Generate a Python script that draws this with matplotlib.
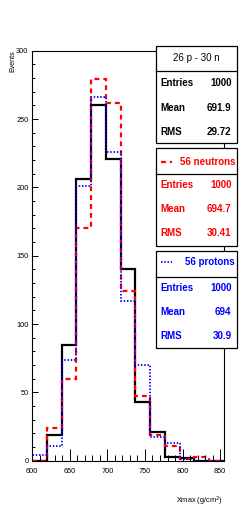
import numpy as np
import matplotlib
matplotlib.use("Agg")
import matplotlib.pyplot as plt
from matplotlib.patches import Rectangle
from matplotlib.lines import Line2D

plt.rcParams['font.family'] = ['Liberation Sans', 'DejaVu Sans']

# ---- data ----
x_min, x_max, n_bins = 600, 855, 13
mixed = [0, 19, 85, 206, 260, 221, 140, 43, 21, 3, 2, 0, 0]      # 26 p - 30 n
neutrons = [0, 24, 60, 170, 279, 262, 124, 47, 19, 11, 1, 3, 0]  # 56 neutrons
protons = [4, 11, 74, 201, 266, 226, 117, 70, 17, 13, 1, 0, 0]   # 56 protons

box_titles = ["26 p - 30 n", "56 neutrons", "56 protons"]
box_entries = ["1000", "1000", "1000"]
box_means = ["691.9", "694.7", "694"]
box_rms = ["29.72", "30.41", "30.9"]

W, H = 249, 517
fig = plt.figure(figsize=(W / 100, H / 100), dpi=100)

def fx(px):
    return px / W

def fy(py):
    return 1 - py / H

ax_l, ax_r, ax_t, ax_b = 32, 224, 50.7, 460.7
ax = fig.add_axes([fx(ax_l), fy(ax_b), fx(ax_r) - fx(ax_l), fy(ax_t) - fy(ax_b)])

edges = np.linspace(x_min, x_max, n_bins + 1)
ax.stairs(mixed, edges, color='black', lw=1.6, baseline=0)
ax.stairs(neutrons, edges, color='#ff0000', lw=1.6, linestyle=(0, (2.2, 1.8)), baseline=0)
ax.stairs(protons, edges, color='#0000ff', lw=1.3, linestyle=(0, (0.8, 1.0)), baseline=0)

ax.set_xlim(x_min, x_max)
ax.set_ylim(0, 300)
ax.set_xticks(np.arange(600, 851, 50))
ax.set_xticks(np.arange(600, 851, 10), minor=True)
ax.set_yticks(np.arange(0, 301, 50))
ax.set_yticks(np.arange(0, 301, 10), minor=True)
ax.tick_params(axis='x', which='major', direction='in', length=8.6, width=0.7, labelsize=5.3, pad=5.5)
ax.tick_params(axis='x', which='minor', direction='in', length=4.3, width=0.7)
ax.tick_params(axis='y', which='major', direction='in', length=4.3, width=0.7, labelsize=5.3, pad=2.5)
ax.tick_params(axis='y', which='minor', direction='in', length=2.2, width=0.7)
for s in ax.spines.values():
    s.set_linewidth(0.8)

fig.text(fx(12.5), fy(50), "Events", rotation=90, ha='center', va='top', fontsize=5)
fig.text(fx(223), fy(501), "Xmax (g/cm$^2$)", ha='right', va='center', fontsize=5.3)

# ---- stat boxes ----
bx0, bx1 = 156, 236.7
boxes = [
    (45.7, 143.3, 70.7, 58.3, [83.3, 108.3, 131.7], 'black'),
    (148.3, 246, 174, 161.7, [185, 209.3, 233.3], '#ff0000'),
    (250.7, 347.7, 276.7, 262, [287.7, 312.3, 336], '#0000ff'),
]
for i, (top, bot, sep, ty, rows, col) in enumerate(boxes):
    fig.add_artist(Rectangle((fx(bx0), fy(bot)), fx(bx1) - fx(bx0), fy(top) - fy(bot),
                             transform=fig.transFigure, facecolor='white',
                             edgecolor='black', lw=0.9, zorder=5))
    fig.add_artist(Line2D([fx(bx0), fx(bx1)], [fy(sep), fy(sep)], transform=fig.transFigure,
                          color='black', lw=0.9, zorder=6))
    if i == 0:
        fig.text(fx((bx0 + bx1) / 2), fy(ty), box_titles[i], ha='center', va='center',
                 fontsize=7, color=col, zorder=7)
    else:
        ls = (0, (2.2, 1.8)) if i == 1 else (0, (0.8, 1.0))
        lw = 1.6 if i == 1 else 1.3
        fig.add_artist(Line2D([fx(160.7), fx(172)], [fy(ty), fy(ty)], transform=fig.transFigure,
                              color=col, lw=lw, linestyle=ls, zorder=7))
        fig.text(fx(235), fy(ty), box_titles[i], ha='right', va='center',
                 fontsize=7, fontweight='bold', color=col, zorder=7)
    labels = ["Entries", "Mean", "RMS"]
    vals = [box_entries[i], box_means[i], box_rms[i]]
    for ry, lab, v in zip(rows, labels, vals):
        fig.text(fx(160.7), fy(ry), lab, ha='left', va='center', fontsize=7,
                 fontweight='bold', color=col, zorder=7)
        fig.text(fx(231.5), fy(ry), v, ha='right', va='center', fontsize=7,
                 fontweight='bold', color=col, zorder=7)

fig.savefig("out.png", dpi=100)
